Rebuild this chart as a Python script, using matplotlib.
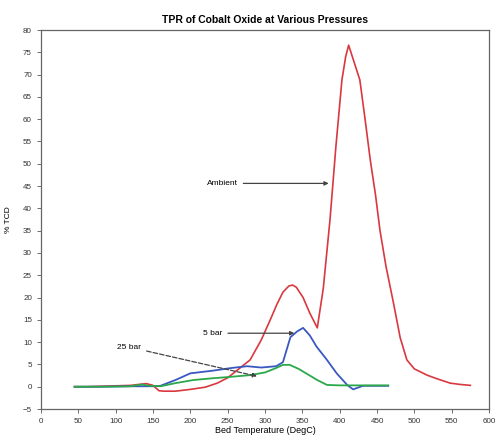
import matplotlib.pyplot as plt

plt.rcParams["font.family"] = ["Liberation Sans", "DejaVu Sans"]

# Ambient pressure
amb_t = [45, 60, 80, 100, 120, 141, 150, 158, 165, 180, 200, 220, 236, 250, 265,
         280, 295, 307, 316, 324, 332, 337, 342, 351, 360, 370, 378, 387, 395,
         403, 408, 412, 417, 427, 434, 441, 448, 454, 462, 472, 481, 490, 500,
         517, 530, 548, 562, 575]
amb_y = [0, 0, 0.1, 0.2, 0.3, 0.7, 0.3, -0.9, -1, -1, -0.6, -0.1, 0.8, 2, 4,
         6, 10.5, 15, 18.5, 21.2, 22.6, 22.8, 22.3, 20, 16.5, 13.2, 22, 37.4, 54,
         68.8, 74, 76.6, 74, 68.8, 60, 50.8, 43, 35, 27, 18.8, 11, 6, 4,
         2.6, 1.8, 0.8, 0.5, 0.3]

# 5 bar
bar5_t = [45, 80, 120, 150, 160, 180, 200, 230, 255, 276, 295, 315, 324, 334,
          343, 351, 360, 369, 383, 396, 410, 418, 431, 450, 465]
bar5_y = [0, 0, 0.1, 0.1, 0.2, 1.5, 3.0, 3.6, 4.2, 4.6, 4.3, 4.6, 5.5, 11.1,
          12.4, 13.2, 11.5, 9, 6, 3, 0.4, -0.6, 0.2, 0.2, 0.2]

# 25 bar
bar25_t = [45, 80, 120, 135, 145, 160, 180, 204, 230, 253, 280, 300, 315, 324,
           333, 345, 355, 370, 383, 400, 430, 465]
bar25_y = [0, 0, 0.1, 0.5, 0.2, 0.1, 0.8, 1.5, 1.9, 2.2, 2.6, 3.2, 4.2, 4.9,
           4.9, 4.0, 3.0, 1.5, 0.4, 0.3, 0.3, 0.3]

fig = plt.figure(figsize=(4.98, 4.44), dpi=100)
ax = fig.add_axes([0.0823, 0.0788, 0.8997, 0.8536])

ax.plot(amb_t, amb_y, color="#d9383f", lw=1.2)
ax.plot(bar5_t, bar5_y, color="#3a58c0", lw=1.3)
ax.plot(bar25_t, bar25_y, color="#2aa84a", lw=1.3)

ax.set_xlim(0, 600)
ax.set_ylim(-5, 80)
ax.set_xticks(range(0, 601, 50))
ax.set_yticks(range(-5, 81, 5))
ax.tick_params(labelsize=5.8, length=3, width=0.6, color="#555555",
               labelcolor="#333333")
for s in ax.spines.values():
    s.set_color("#666666")
    s.set_linewidth(0.9)

ax.set_title("TPR of Cobalt Oxide at Various Pressures", fontsize=7.5,
             fontweight="bold", pad=5)
ax.set_xlabel("Bed Temperature (DegC)", fontsize=6.5, labelpad=1)
ax.set_ylabel("% TCD", fontsize=6, labelpad=8)

arrow = dict(arrowstyle="-|>", color="#444444", lw=0.9, mutation_scale=6)
ax.annotate("Ambient", xy=(389, 45.6), xytext=(222, 45.6), fontsize=6,
            va="center", arrowprops=arrow)
ax.annotate("5 bar", xy=(343, 12.0), xytext=(217, 12.0), fontsize=6,
            va="center", arrowprops=arrow)
ax.annotate("25 bar", xy=(293, 2.2), xytext=(102, 8.9), fontsize=6,
            va="center", arrowprops=dict(arrowstyle="-|>", color="#444444",
                                         lw=0.9, ls="--", mutation_scale=6))

plt.savefig("out.png", dpi=100)
